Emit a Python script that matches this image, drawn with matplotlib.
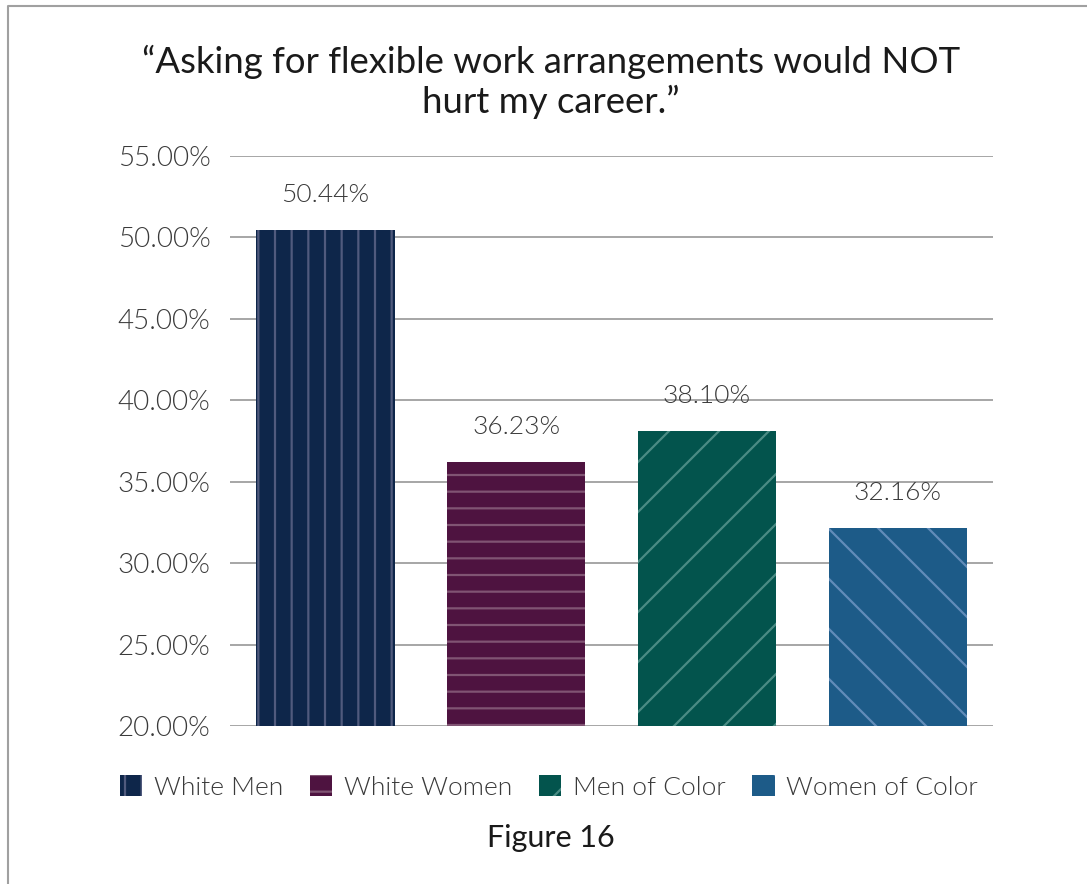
import matplotlib
matplotlib.use("Agg")
import matplotlib.pyplot as plt
import matplotlib.hatch as mhatch
from matplotlib.lines import Line2D
import numpy as np


# ========================== Data ==========================
groups = ["White Men", "White Women", "Men of Color", "Women of Color"]
values = [50.44, 36.23, 38.10, 32.16]
yticks = [20, 25, 30, 35, 40, 45, 50, 55]

fills = ["#0E264A", "#4E1340", "#03544D", "#1D5B88"]
stripes = ["#505A7D", "#805473", "#4B8C84", "#628CB9"]
hatches = ["|", "-", "/", "\\"]


# ========================== Settings ==========================
# diagonal hatches are sparser than the straight ones in the original
def _sparse(chars):
    def init(self, hatch, density):
        self.num_lines = int(sum(hatch.count(c) for c in chars) * 4)
        self.num_vertices = (self.num_lines + 1) * 2 if self.num_lines else 0
    return init


mhatch.NorthEastHatch.__init__ = _sparse("/xX")
mhatch.SouthEastHatch.__init__ = _sparse("\\xX")

plt.rcParams["font.family"] = ["Lato", "DejaVu Sans"]
plt.rcParams["hatch.linewidth"] = 1.6
TXT = "#3A3A3A"
LIGHT = 300


# ========================== Plot ==========================
fig = plt.figure(figsize=(10.87, 8.84), dpi=100)
ax = fig.add_axes([0.2116, 0.1787, 0.702, 0.6448])

x = np.arange(len(groups))
bars = ax.bar(x, values, width=0.725, color=fills, edgecolor=stripes,
              linewidth=0, zorder=3)
for b, h in zip(bars, hatches):
    b.set_hatch(h)

for xi, v in zip(x, values):
    ax.text(xi, v + 1.4, f"{v:.2f}%", ha="center", va="bottom",
            fontsize=19, color=TXT, fontweight=LIGHT)

ax.set_xlim(-0.5, 3.5)
ax.set_ylim(20, 55)
ax.set_yticks(yticks)
ax.set_yticklabels([f"{t:.2f}%" for t in yticks], fontsize=20, color=TXT,
                   fontweight=LIGHT)
ax.set_xticks([])
ax.tick_params(axis="y", length=0, pad=14)
ax.grid(axis="y", color="#A6A6A6", lw=1.4, zorder=0)
for s in ax.spines.values():
    s.set_visible(False)

ax.legend(bars, groups, loc="upper center", bbox_to_anchor=(0.418, -0.045),
          ncol=4, frameon=False, handlelength=0.85, handleheight=0.85,
          handletextpad=0.45, columnspacing=1.0, labelcolor=TXT,
          prop={"weight": LIGHT, "size": 19})

fig.text(0.507, 0.907, "\u201cAsking for flexible work arrangements would NOT\nhurt my career.\u201d",
         ha="center", va="center", fontsize=26.3, color="#1A1A1A",
         linespacing=1.2)
fig.text(0.507, 0.052, "Figure 16", ha="center", va="center", fontsize=22,
         color="#1A1A1A")

# frame remnant on left and top edges
fig.add_artist(Line2D([8 / 1087, 8 / 1087, 1.0], [0.0, 1 - 6 / 884, 1 - 6 / 884],
                      transform=fig.transFigure, color="#A0A0A0", lw=1.5))

fig.savefig("out.png", dpi=100)
